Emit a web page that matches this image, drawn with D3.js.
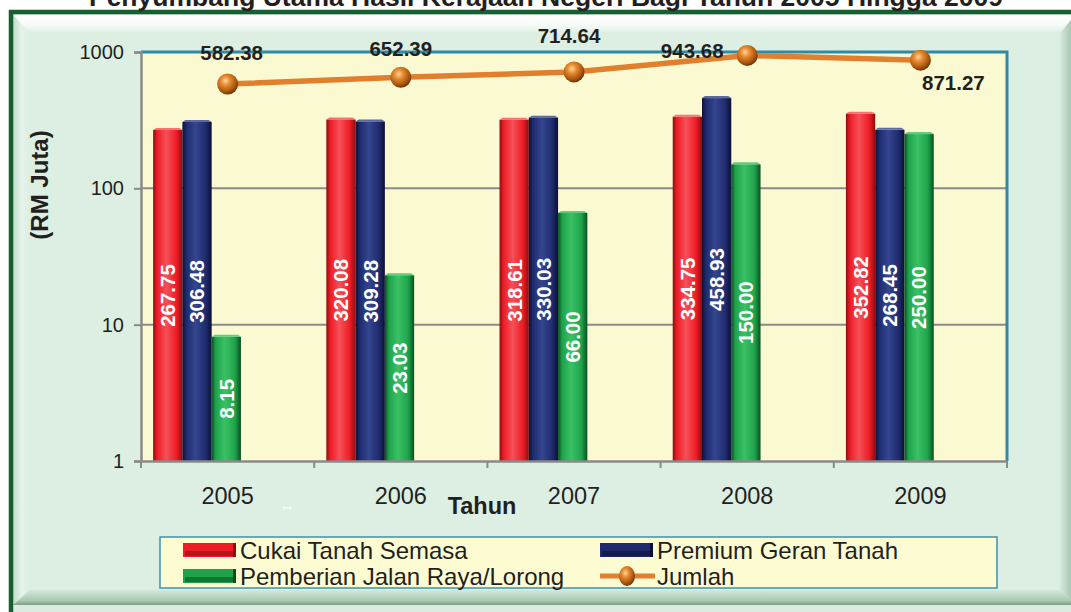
<!DOCTYPE html>
<html lang="ms">
<head>
  <meta charset="UTF-8">
  <script src="https://cdn.jsdelivr.net/npm/d3@7"></script>
  <style>
    body { margin: 0; background: #ddeee2; overflow: hidden; }
    svg { display: block; font-family: "Liberation Sans", Arial, sans-serif; }
  </style>
</head>
<body>
  <div id="wrapper"></div>
  <script>
    // data
    const years = ["2005", "2006", "2007", "2008", "2009"];
    const cukaiTanah = [267.75, 320.08, 318.61, 334.75, 352.82];
    const premiumGeran = [306.48, 309.28, 330.03, 458.93, 268.45];
    const pemberianJalan = [8.15, 23.03, 66.00, 150.00, 250.00];
    const jumlah = [582.38, 652.39, 714.64, 943.68, 871.27];
    const yTicks = [1, 10, 100, 1000];
    // manual label offsets of the total line (as placed in the source chart)
    const jumlahLabelOffset = [[4, -31], [0, -29], [-5, -36], [-55, -5], [33, 22]];

    const series = [
      { name: "Cukai Tanah Semasa", values: cukaiTanah, base: "#ee1c25", dark: "#8e0d12", light: "#f65058" },
      { name: "Premium Geran Tanah", values: premiumGeran, base: "#1f2b6e", dark: "#0b1033", light: "#34468f" },
      { name: "Pemberian Jalan Raya/Lorong", values: pemberianJalan, base: "#1ea34b", dark: "#0a4f22", light: "#3bc164" },
    ];

    const width = 1071;
    const height = 612;
    const dimensions = {
      margin: { top: 52, right: 64, bottom: 151, left: 141 },
    };
    dimensions.boundedWidth = width - dimensions.margin.left - dimensions.margin.right;
    dimensions.boundedHeight = height - dimensions.margin.top - dimensions.margin.bottom;

    const svg = d3.select("#wrapper").append("svg")
      .attr("width", width)
      .attr("height", height);

    const defs = svg.append("defs");

    //#region frame
    const bevelTop = defs.append("linearGradient").attr("id", "bevel-top")
      .attr("x1", 0).attr("x2", 0).attr("y1", 0).attr("y2", 1);
    bevelTop.append("stop").attr("offset", "0%").attr("stop-color", "#ffffff");
    bevelTop.append("stop").attr("offset", "60%").attr("stop-color", "#f4faf6");
    bevelTop.append("stop").attr("offset", "100%").attr("stop-color", "#ddeee2");

    const bevelBottom = defs.append("linearGradient").attr("id", "bevel-bottom")
      .attr("x1", 0).attr("x2", 0).attr("y1", 0).attr("y2", 1);
    bevelBottom.append("stop").attr("offset", "0%").attr("stop-color", "#d3e9da");
    bevelBottom.append("stop").attr("offset", "70%").attr("stop-color", "#a9c9b2");
    bevelBottom.append("stop").attr("offset", "100%").attr("stop-color", "#7e9c86");

    const bevelLeft = defs.append("linearGradient").attr("id", "bevel-left")
      .attr("x1", 0).attr("x2", 1).attr("y1", 0).attr("y2", 0);
    bevelLeft.append("stop").attr("offset", "0%").attr("stop-color", "#bfdcc8");
    bevelLeft.append("stop").attr("offset", "50%").attr("stop-color", "#e6f3ea");
    bevelLeft.append("stop").attr("offset", "100%").attr("stop-color", "#ddeee2");

    const bevelRight = defs.append("linearGradient").attr("id", "bevel-right")
      .attr("x1", 0).attr("x2", 1).attr("y1", 0).attr("y2", 0);
    bevelRight.append("stop").attr("offset", "0%").attr("stop-color", "#d6ebdd");
    bevelRight.append("stop").attr("offset", "100%").attr("stop-color", "#a8c8b1");

    svg.append("rect").attr("width", width).attr("height", height).attr("fill", "#ffffff");
    svg.append("rect").attr("x", 13).attr("y", 14).attr("width", width - 13).attr("height", height - 14)
      .attr("fill", "#ddeee2");
    svg.append("path").attr("d", "M13,15 H1071 V20 L1060,33 H30 Z").attr("fill", "url(#bevel-top)");
    svg.append("path").attr("d", "M13,15 L30,33 V590 L13,605 Z").attr("fill", "url(#bevel-left)");
    svg.append("path").attr("d", "M13,605 L30,590 H1060 L1071,600 V605 Z").attr("fill", "url(#bevel-bottom)");
    svg.append("path").attr("d", "M1060,33 L1071,20 V600 L1060,590 Z").attr("fill", "url(#bevel-right)");
    svg.append("rect").attr("x", 13).attr("y", 605).attr("width", width).attr("height", 7).attr("fill", "#dcebe0");
    svg.append("path").attr("d", "M11,612 V12 H1071")
      .attr("fill", "none").attr("stroke", "#175e30").attr("stroke-width", 4.5);
    //#endregion

    svg.append("text")
      .attr("x", 546).attr("y", 6)
      .attr("text-anchor", "middle")
      .attr("font-weight", "bold").attr("font-size", 26.5)
      .attr("fill", "#231f20")
      .text("Penyumbang Utama Hasil Kerajaan Negeri Bagi Tahun 2005 Hingga 2009");

    const bounds = svg.append("g")
      .attr("transform", `translate(${dimensions.margin.left},${dimensions.margin.top})`);

    //#region scales
    const xScale = d3.scaleBand()
      .domain(years)
      .range([0, dimensions.boundedWidth])
      .paddingInner(0).paddingOuter(0);

    const yScale = d3.scaleLog()
      .domain([1, 1000])
      .range([dimensions.boundedHeight, 0]);

    const barWidth = xScale.bandwidth() * 0.169;
    const groupOffset = xScale.bandwidth() * 0.07;
    //#endregion

    // plot area
    bounds.append("rect")
      .attr("width", dimensions.boundedWidth)
      .attr("height", dimensions.boundedHeight)
      .attr("fill", "#fbf9d1");

    bounds.append("g")
      .selectAll("line")
      .data(yTicks.slice(1, 3))
      .join("line")
      .attr("x1", 0).attr("x2", dimensions.boundedWidth)
      .attr("y1", d => yScale(d)).attr("y2", d => yScale(d))
      .attr("stroke", "#8a8a8a").attr("stroke-width", 2);

    // teal border top + right
    bounds.append("path")
      .attr("d", `M0,0 H${dimensions.boundedWidth} V${dimensions.boundedHeight}`)
      .attr("fill", "none").attr("stroke", "#2f8aa6").attr("stroke-width", 3);

    //#region bars
    series.forEach((s, i) => {
      const grad = defs.append("linearGradient").attr("id", `bar-grad-${i}`)
        .attr("x1", 0).attr("x2", 1).attr("y1", 0).attr("y2", 0);
      grad.append("stop").attr("offset", "0%").attr("stop-color", s.dark);
      grad.append("stop").attr("offset", "14%").attr("stop-color", s.base);
      grad.append("stop").attr("offset", "45%").attr("stop-color", s.light);
      grad.append("stop").attr("offset", "80%").attr("stop-color", s.base);
      grad.append("stop").attr("offset", "100%").attr("stop-color", s.dark);
    });

    const barGroups = bounds.append("g")
      .selectAll("g")
      .data(series)
      .join("g");

    barGroups.selectAll("rect")
      .data((s, i) => s.values.map((v, j) => ({ v, year: years[j], i })))
      .join("rect")
      .attr("x", d => xScale(d.year) + groupOffset + d.i * barWidth)
      .attr("y", d => yScale(d.v))
      .attr("width", barWidth)
      .attr("height", d => dimensions.boundedHeight - yScale(d.v))
      .attr("fill", d => `url(#bar-grad-${d.i})`);

    // bar tops
    barGroups.selectAll("path")
      .data((s, i) => s.values.map((v, j) => ({ v, year: years[j], i })))
      .join("path")
      .attr("d", d => {
        const x = xScale(d.year) + groupOffset + d.i * barWidth;
        const y = yScale(d.v);
        return `M${x},${y} L${x + 3},${y - 2} H${x + barWidth - 3} L${x + barWidth},${y} Z`;
      })
      .attr("fill", (d) => series[d.i].light)
      .attr("opacity", 0.8);

    barGroups.selectAll("text")
      .data((s, i) => s.values.map((v, j) => ({ v, year: years[j], i })))
      .join("text")
      .attr("transform", d => {
        const cx = xScale(d.year) + groupOffset + (d.i + 0.5) * barWidth;
        const cy = (yScale(d.v) + dimensions.boundedHeight) / 2;
        return `translate(${cx},${cy}) rotate(-90)`;
      })
      .attr("text-anchor", "middle")
      .attr("dy", "0.36em")
      .attr("fill", "#ffffff")
      .attr("font-weight", "bold")
      .attr("font-size", 20.5)
      .text(d => d.v.toFixed(2));
    //#endregion

    //#region axes
    const yAxis = bounds.append("g")
      .call(d3.axisLeft(yScale).tickValues(yTicks).tickFormat(d3.format("d")).tickSize(7).tickPadding(10));
    yAxis.select(".domain").attr("stroke", "#8a8a8a").attr("stroke-width", 2.5);
    yAxis.selectAll(".tick line").attr("stroke", "#8a8a8a").attr("stroke-width", 2);
    yAxis.selectAll(".tick text")
      .attr("font-size", 20).attr("fill", "#231f20")
      .attr("font-family", "Liberation Sans, Arial, sans-serif");

    const xAxis = bounds.append("g")
      .attr("transform", `translate(0,${dimensions.boundedHeight})`)
      .call(d3.axisBottom(xScale).tickSize(0).tickPadding(26));
    xAxis.select(".domain").attr("stroke", "#8a8a8a").attr("stroke-width", 2.5);
    xAxis.selectAll(".tick text")
      .attr("font-size", 23.5).attr("fill", "#231f20")
      .attr("font-family", "Liberation Sans, Arial, sans-serif");

    // band separators
    xAxis.append("g")
      .selectAll("line")
      .data(years.concat(["end"]))
      .join("line")
      .attr("x1", (d, i) => i * xScale.step())
      .attr("x2", (d, i) => i * xScale.step())
      .attr("y1", 0).attr("y2", 7)
      .attr("stroke", "#8a8a8a").attr("stroke-width", 2);

    svg.append("text")
      .attr("x", 482).attr("y", 514)
      .attr("text-anchor", "middle")
      .attr("font-weight", "bold").attr("font-size", 23.5)
      .attr("fill", "#231f20")
      .text("Tahun");

    svg.append("text")
      .attr("x", 287).attr("y", 512)
      .attr("text-anchor", "middle")
      .attr("font-size", 10)
      .attr("fill", "#ffffff")
      .attr("transform", "rotate(-90,287,508)")
      .text("1");

    svg.append("text")
      .attr("transform", "translate(48,185) rotate(-90)")
      .attr("text-anchor", "middle")
      .attr("font-weight", "bold").attr("font-size", 24)
      .attr("fill", "#231f20")
      .text("(RM Juta)");
    //#endregion

    //#region total line
    const ball = defs.append("radialGradient").attr("id", "ball")
      .attr("cx", "40%").attr("cy", "35%").attr("r", "65%");
    ball.append("stop").attr("offset", "0%").attr("stop-color", "#ffd29a");
    ball.append("stop").attr("offset", "35%").attr("stop-color", "#e48a2e");
    ball.append("stop").attr("offset", "80%").attr("stop-color", "#a6520f");
    ball.append("stop").attr("offset", "100%").attr("stop-color", "#6e3406");

    const lineGenerator = d3.line()
      .x((d, i) => xScale(years[i]) + xScale.bandwidth() / 2)
      .y(d => yScale(d));

    bounds.append("path")
      .attr("d", lineGenerator(jumlah))
      .attr("fill", "none")
      .attr("stroke", "#e07f2e")
      .attr("stroke-width", 5.5);

    bounds.append("g")
      .selectAll("circle")
      .data(jumlah)
      .join("circle")
      .attr("cx", (d, i) => xScale(years[i]) + xScale.bandwidth() / 2)
      .attr("cy", d => yScale(d))
      .attr("r", 10.5)
      .attr("fill", "url(#ball)");

    bounds.append("g")
      .selectAll("text")
      .data(jumlah)
      .join("text")
      .attr("x", (d, i) => xScale(years[i]) + xScale.bandwidth() / 2 + jumlahLabelOffset[i][0])
      .attr("y", (d, i) => yScale(d) + jumlahLabelOffset[i][1])
      .attr("dy", "0.36em")
      .attr("text-anchor", "middle")
      .attr("font-weight", "bold").attr("font-size", 20.5)
      .attr("fill", "#231f20")
      .text(d => d.toFixed(2));
    //#endregion

    //#region legend
    const legend = svg.append("g").attr("transform", "translate(160,537)");
    legend.append("rect")
      .attr("width", 837).attr("height", 51)
      .attr("fill", "#fdfbd2")
      .attr("stroke", "#3d93ad").attr("stroke-width", 1.5);

    const legendItems = [
      { label: series[0].name, i: 0, x: 23, y: 13 },
      { label: series[1].name, i: 1, x: 440, y: 13 },
      { label: series[2].name, i: 2, x: 23, y: 39 },
      { label: "Jumlah", i: 3, x: 440, y: 39 },
    ];

    legendItems.forEach(item => {
      const g = legend.append("g").attr("transform", `translate(${item.x},${item.y})`);
      if (item.i < 3) {
        g.append("rect")
          .attr("x", 0).attr("y", -7).attr("width", 53).attr("height", 14)
          .attr("fill", series[item.i].base);
        g.append("rect")
          .attr("x", 2).attr("y", 1).attr("width", 49).attr("height", 5)
          .attr("fill", series[item.i].dark).attr("opacity", 0.55);
        g.append("rect")
          .attr("x", 50).attr("y", -7).attr("width", 3).attr("height", 14)
          .attr("fill", series[item.i].dark);
      } else {
        g.append("line")
          .attr("x1", 0).attr("x2", 55).attr("y1", 0).attr("y2", 0)
          .attr("stroke", "#e07f2e").attr("stroke-width", 5);
        g.append("ellipse")
          .attr("cx", 27).attr("cy", 0).attr("rx", 8).attr("ry", 10)
          .attr("fill", "url(#ball)");
      }
      g.append("text")
        .attr("x", 57).attr("y", 0).attr("dy", "0.36em")
        .attr("font-size", 24)
        .attr("fill", "#231f20")
        .text(item.label);
    });
    //#endregion
  </script>
</body>
</html>
